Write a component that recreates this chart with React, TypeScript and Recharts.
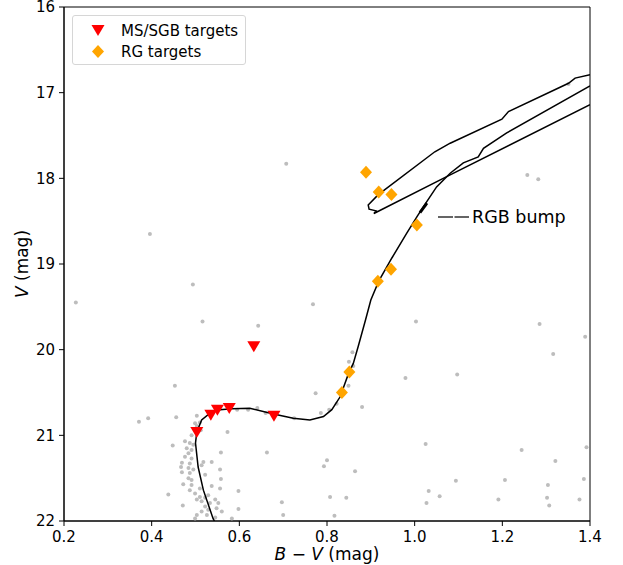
import React from 'react';
import { ScatterChart, Scatter, XAxis, YAxis, ReferenceArea } from 'recharts';

const FONT = '"DejaVu Sans", sans-serif';

const xTicks = [0.2, 0.4, 0.6, 0.8, 1.0, 1.2, 1.4];
const yTicks = [16, 17, 18, 19, 20, 21, 22];

// field stars [B-V, V]
const fieldStars: [number, number][] = [
  [0.456, 20.79], [0.503, 20.77], [0.499, 20.86], [0.503, 20.89], [0.510, 20.85], [0.512, 20.94],
  [0.573, 20.96], [0.491, 21.0], [0.476, 21.07], [0.487, 21.09], [0.495, 21.11], [0.448, 21.12],
  [0.48, 21.15], [0.491, 21.17], [0.558, 21.2], [0.484, 21.21], [0.476, 21.25], [0.491, 21.27],
  [0.518, 21.31], [0.537, 21.31], [0.469, 21.32], [0.487, 21.33], [0.514, 21.35], [0.467, 21.37],
  [0.484, 21.38], [0.495, 21.4], [0.556, 21.4], [0.469, 21.43], [0.487, 21.44], [0.522, 21.46],
  [0.484, 21.5], [0.491, 21.52], [0.558, 21.51], [0.472, 21.57], [0.491, 21.58], [0.537, 21.59],
  [0.51, 21.62], [0.556, 21.62], [0.487, 21.64], [0.598, 21.65], [0.499, 21.68], [0.438, 21.69],
  [0.529, 21.7], [0.51, 21.72], [0.522, 21.73], [0.503, 21.75], [0.545, 21.75], [0.514, 21.77],
  [0.533, 21.79], [0.552, 21.79], [0.471, 21.82], [0.522, 21.83], [0.548, 21.85], [0.598, 21.86],
  [0.529, 21.87], [0.514, 21.89], [0.56, 21.89], [0.503, 21.93], [0.526, 21.93], [0.499, 21.97],
  [0.545, 21.96], [0.583, 21.97],
  [0.396, 18.65], [0.227, 19.45], [0.494, 19.24], [0.516, 19.67], [0.643, 19.72], [0.453, 20.42],
  [0.371, 20.84], [0.392, 20.8], [0.663, 21.2], [0.697, 21.78], [0.7, 21.93], [0.774, 20.51],
  [0.786, 20.74], [0.805, 20.7], [0.793, 21.36], [0.8, 21.29], [0.807, 21.72], [0.817, 21.94],
  [0.85, 20.14], [0.849, 20.42], [0.822, 20.63], [0.62, 20.7], [0.641, 20.68], [0.66, 20.74],
  [0.595, 20.7], [1.003, 19.67], [0.858, 20.03], [0.86, 20.19], [0.88, 20.67], [0.979, 20.33],
  [0.864, 21.42], [0.844, 21.73], [1.025, 21.1], [1.094, 21.53], [1.032, 21.65], [1.057, 21.71],
  [1.027, 21.79], [1.244, 21.17], [1.206, 21.52], [1.191, 21.75], [1.321, 21.3], [1.304, 21.58],
  [1.302, 21.73], [1.307, 21.82], [1.392, 21.14], [1.386, 21.51], [1.376, 21.75], [1.285, 19.7],
  [1.389, 19.85], [1.316, 20.05], [1.097, 20.29], [1.351, 16.9], [1.257, 17.96], [1.282, 18.01],
  [0.707, 17.83], [0.725, 20.8], [0.768, 19.47],
];

const msSgbTargets: [number, number][] = [
  [0.633, 19.96], [0.503, 20.96], [0.535, 20.76], [0.55, 20.7], [0.577, 20.68], [0.679, 20.77],
];

const rgTargets: [number, number][] = [
  [0.889, 17.93], [0.918, 18.16], [0.947, 18.19], [1.005, 18.545],
  [0.946, 19.06], [0.916, 19.2], [0.851, 20.26], [0.834, 20.5],
];

// isochrone: main sequence -> subgiant -> red giant branch
const isoMain: [number, number][] = [
  [0.543, 22.0], [0.54, 21.97], [0.518, 21.64], [0.506, 21.37], [0.5, 21.09], [0.503, 20.96],
  [0.514, 20.82], [0.533, 20.74], [0.556, 20.7], [0.583, 20.69], [0.624, 20.685], [0.678, 20.75],
  [0.723, 20.8], [0.761, 20.82], [0.792, 20.78], [0.811, 20.7], [0.83, 20.55], [0.849, 20.28],
  [0.86, 20.16], [0.871, 19.965], [0.888, 19.65], [0.9, 19.42], [0.918, 19.2], [0.948, 18.93],
  [0.982, 18.64], [1.005, 18.45], [1.02, 18.33], [1.05, 18.1], [1.081, 17.94], [1.111, 17.82],
  [1.145, 17.75], [1.157, 17.65], [1.21, 17.47], [1.4, 16.92],
];

// isochrone: horizontal branch / AGB loop
const isoHB: [number, number][] = [
  [1.4, 16.79], [1.366, 16.83], [1.351, 16.89], [1.214, 17.22], [1.199, 17.31], [1.081, 17.59],
  [1.046, 17.69], [0.917, 18.19], [0.894, 18.31], [0.896, 18.36], [0.912, 18.38], [0.907, 18.41],
  [1.081, 17.96], [1.4, 17.14],
];

const rgbBump: [number, number][] = [[1.012, 18.4], [1.028, 18.29]];

const toPts = (arr: [number, number][]) => arr.map(([bv, v]) => ({ bv, v }));

const Dot = (props: any) => <circle cx={props.cx} cy={props.cy} r={2} fill="#bdbdbd" />;
const NoDot = () => <g />;
const TriDown = (props: any) => {
  const { cx, cy } = props;
  return <path d={`M${cx - 6.5},${cy - 5} L${cx + 6.5},${cy - 5} L${cx},${cy + 6} Z`} fill="#ff0000" />;
};
const Diamond = (props: any) => {
  const { cx, cy } = props;
  return <path d={`M${cx},${cy - 6.5} L${cx + 6},${cy} L${cx},${cy + 6.5} L${cx - 6},${cy} Z`} fill="#ffa500" />;
};

export default function App() {
  return (
    <div style={{ position: 'absolute', left: 0, top: 0, width: 623, height: 565, background: '#fff', fontFamily: FONT }}>
      <ScatterChart width={623} height={565} margin={{ top: 7, right: 33, left: 0, bottom: 0 }}>
        <XAxis
          type="number"
          dataKey="bv"
          domain={[0.2, 1.4]}
          ticks={xTicks}
          interval={0}
          tickFormatter={(t: number) => t.toFixed(1)}
          height={44}
          tickSize={5}
          tickMargin={5}
          stroke="#000"
          tick={{ fontSize: 15, fontFamily: FONT, fill: '#000' }}
          allowDataOverflow
        />
        <YAxis
          type="number"
          dataKey="v"
          domain={[16, 22]}
          reversed
          ticks={yTicks}
          interval={0}
          width={64}
          tickSize={5}
          tickMargin={4}
          stroke="#000"
          tick={{ fontSize: 15, fontFamily: FONT, fill: '#000' }}
          allowDataOverflow
        />
        <Scatter data={toPts(fieldStars)} shape={Dot} isAnimationActive={false} />
        <Scatter data={toPts(isoMain)} shape={NoDot} line={{ stroke: '#000', strokeWidth: 1.5 }} lineType="joint" isAnimationActive={false} />
        <Scatter data={toPts(isoHB)} shape={NoDot} line={{ stroke: '#000', strokeWidth: 1.5 }} lineType="joint" isAnimationActive={false} />
        <Scatter data={toPts(rgbBump)} shape={NoDot} line={{ stroke: '#000', strokeWidth: 3 }} lineType="joint" isAnimationActive={false} />
        <Scatter data={toPts(msSgbTargets)} shape={TriDown} isAnimationActive={false} />
        <Scatter data={toPts(rgTargets)} shape={Diamond} isAnimationActive={false} />
        <ReferenceArea x1={0.2} x2={1.4} y1={16} y2={22} fill="none" stroke="#000" strokeWidth={1} />
      </ScatterChart>

      {/* legend */}
      <div style={{ position: 'absolute', left: 72, top: 15, width: 172, height: 48, border: '1px solid #d6d6d6', borderRadius: 3, background: 'rgba(255,255,255,0.8)' }}>
        <svg width={172} height={48} style={{ position: 'absolute', left: 0, top: 0 }}>
          <path d="M18.5,9 L31.5,9 L25,20 Z" fill="#ff0000" />
          <path d="M25,29 L31,35.5 L25,42 L19,35.5 Z" fill="#ffa500" />
          <text x={48} y={19.5} fontSize={15} fontFamily={FONT} fill="#000">MS/SGB targets</text>
          <text x={48} y={41} fontSize={15} fontFamily={FONT} fill="#000">RG targets</text>
        </svg>
      </div>

      {/* RGB bump annotation and axis titles */}
      <svg width={623} height={565} style={{ position: 'absolute', left: 0, top: 0, pointerEvents: 'none' }}>
        <line x1={438} y1={217} x2={469} y2={217} stroke="#333" strokeWidth={1.5} strokeDasharray="15 1.5" />
        <text x={472} y={222.5} fontSize={17.5} fontFamily={FONT} fill="#000">RGB bump</text>
        <text x={327} y={560} fontSize={17} fontFamily={FONT} fill="#000" textAnchor="middle">
          <tspan fontStyle="italic">B</tspan> − <tspan fontStyle="italic">V</tspan> (mag)
        </text>
        <text x={28} y={264} fontSize={17} fontFamily={FONT} fill="#000" textAnchor="middle" transform="rotate(-90 28 264)">
          <tspan fontStyle="italic">V</tspan> (mag)
        </text>
      </svg>
    </div>
  );
}
